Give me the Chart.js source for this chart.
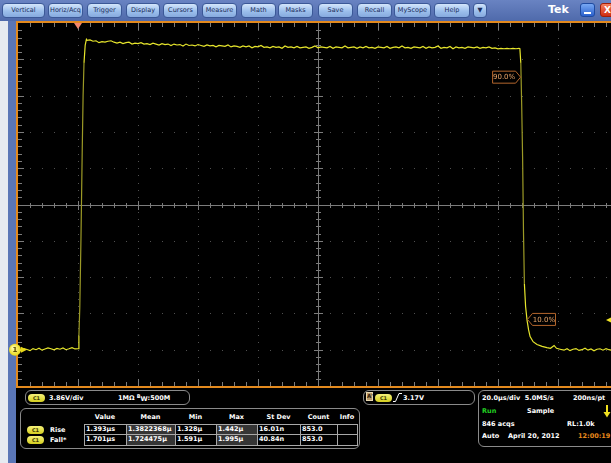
<!DOCTYPE html>
<html>
<head>
<meta charset="utf-8">
<script src="https://cdn.jsdelivr.net/npm/chart.js@4.4.0/dist/chart.umd.min.js"></script>
<style>
html, body { margin: 0; padding: 0; width: 611px; height: 463px; overflow: hidden; background: #000; font-family: "DejaVu Sans", sans-serif; }
#menu { position: absolute; left: 0; top: 0; width: 611px; height: 21px; background: linear-gradient(#6983c2, #4f6aab); z-index: 2; }
.btn { position: absolute; top: 3px; height: 13px; border: 1px solid #3b5897; border-radius: 4px; background: linear-gradient(#d3e5fb, #9cbfec 55%, #86aade); color: #1b2c5a; font-size: 6.5px; line-height: 13px; text-align: center; white-space: nowrap; }
#stripL { position: absolute; left: 0; top: 21px; width: 8px; height: 442px; background: #e6eaf0; }
#stripB { position: absolute; left: 8px; top: 21px; width: 8px; height: 442px; background: #5a76b6; }
#wrap { position: absolute; left: 0; top: 0; width: 630px; height: 390px; z-index: 1; }
.box { position: absolute; border: 1px solid #8a8a8a; border-radius: 6px; box-sizing: border-box; }
.t { position: absolute; color: #fff; font-weight: bold; font-size: 6.5px; line-height: 8px; white-space: nowrap; }
.pill { position: absolute; width: 17px; height: 8px; border-radius: 4px; background: linear-gradient(#f6f27a, #d4ce1e); color: #3a3800; font-weight: bold; font-size: 5px; line-height: 8px; text-align: center; }
.cell { position: absolute; box-sizing: border-box; border: 1px solid #a8a8a8; color: #fff; font-weight: bold; font-size: 6.5px; line-height: 9px; padding-left: 1px; white-space: nowrap; overflow: hidden; }
</style>
</head>
<body>
<div id="menu"></div>
<div id="stripL"></div>
<div id="stripB"></div>
<div id="wrap"><canvas id="scope"></canvas></div>
<div id="panel"></div>

<script>
// C1 acquisition, time in µs, volts
const timeUs = [
  -20, -19, -18, -17, -16, -15, -14, -13, -12, -11, -10, -9, -8, -7, -6, -5, -4, -3, -2, -1,
  0, 0.3, 0.6, 1.0, 1.4, 1.7, 2.0, 2.4, 2.8,
  3, 4, 5, 6, 7, 8, 9, 10, 11, 12,
  13, 14, 15, 16, 17, 18, 19, 20, 21, 22,
  23, 24, 25, 26, 27, 28, 29, 30, 31, 32,
  33, 34, 35, 36, 37, 38, 39, 40, 41, 42,
  43, 44, 45, 46, 47, 48, 49, 50, 51, 52,
  53, 54, 55, 56, 57, 58, 59, 60, 61, 62,
  63, 64, 65, 66, 67, 68, 69, 70, 71, 72,
  73, 74, 75, 76, 77, 78, 79, 80, 81, 82,
  83, 84, 85, 86, 87, 88, 89, 90, 91, 92,
  93, 94, 95, 96, 97, 98, 99, 100, 101, 102,
  103, 104, 105, 106, 107, 108, 109, 110, 111, 112,
  113, 114, 115, 116, 117, 118, 119, 120, 121, 122,
  123, 124, 125, 126, 127, 128, 129, 130, 131, 132,
  133, 134, 135, 136, 137, 138, 139, 140, 141, 142,
  143, 144, 145, 146, 147,
  147.3, 147.6, 147.9, 148.2, 148.5, 148.8, 149.2, 149.7, 150.2, 150.7, 151.7, 153, 154.7, 156.3, 157.5, 158.7, 159.5, 160.7,
  162, 163, 164, 165, 166, 167, 168, 169, 170, 171, 172, 173, 174, 175, 176, 177, 178, 179, 180
];
const voltsC1 = [
  0.05, -0.08, 0.1, 0.02, -0.1, 0.12, 0.0, 0.15, -0.05, 0.08, 0.2, 0.1, -0.02, 0.14, 0.05, 0.18, 0.0, 0.1, 0.22, 0.08,
  0.1, 1.5, 4.5, 12, 21, 27, 30.5, 32.4, 33.0,
  32.9, 32.95, 32.8, 32.85, 32.65, 32.75, 32.7, 32.8, 32.85, 32.7,
  32.6, 32.7, 32.55, 32.65, 32.7, 32.5, 32.6, 32.55, 32.65, 32.5,
  32.55, 32.45, 32.6, 32.5, 32.4, 32.55, 32.45, 32.5, 32.35, 32.5,
  32.4, 32.45, 32.3, 32.5, 32.35, 32.4, 32.3, 32.45, 32.35, 32.25,
  32.4, 32.3, 32.35, 32.2, 32.35, 32.3, 32.25, 32.4, 32.2, 32.3,
  32.25, 32.15, 32.3, 32.2, 32.3, 32.1, 32.25, 32.2, 32.35, 32.15,
  32.2, 32.1, 32.25, 32.15, 32.2, 32.05, 32.3, 32.15, 32.2, 32.1,
  32.25, 32.1, 32.15, 32.2, 32.05, 32.15, 32.3, 32.1, 32.2, 32.15,
  32.1, 32.25, 32.05, 32.2, 32.15, 32.1, 32.3, 32.1, 32.15, 32.2,
  32.05, 32.2, 32.1, 32.25, 32.1, 32.15, 32.05, 32.2, 32.15, 32.1,
  32.25, 32.05, 32.15, 32.2, 32.1, 32.3, 32.1, 32.15, 32.05, 32.2,
  32.15, 32.1, 32.25, 32.05, 32.2, 32.1, 32.15, 32.3, 32.05, 32.15,
  32.1, 32.25, 32.0, 32.2, 32.1, 32.15, 32.05, 32.2, 32.15, 32.1,
  32.2, 32.05, 32.15, 32.1, 32.2, 32.05, 32.1, 32.0, 32.05, 32.0,
  32.05, 32.0, 32.05, 32.0, 32.05,
  32.0, 30.5, 26, 20.5, 12.5, 7.0, 4.6, 3.1, 2.1, 1.4, 0.85, 0.55, 0.35, 0.22, 0.15, 0.45, 0.15, 0.05,
  -0.05, 0.1, -0.1, 0.05, 0.12, -0.08, 0.0, 0.15, -0.05, 0.08, -0.12, 0.05, 0.1, -0.05, 0.12, 0.0, -0.08, 0.1, 0.02
];

// scope settings
const secPerDiv = 20;        // µs/div
const voltsPerDiv = 3.86;
const xDivs = 10, yDivs = 10;
const xMin = -20;            // trigger sits one division in
const yMin = -3.86;          // ground one division up
const trigLevel = 3.17;
const highLevel = 32.2, lowLevel = 0;
const refPercents = [90, 10];

// menu + readouts
const menuButtons = [
  ['Vertical', 2, 43], ['Horiz/Acq', 48, 35], ['Trigger', 87, 35], ['Display', 126, 34],
  ['Cursors', 163, 35], ['Measure', 202, 35], ['Math', 241, 35], ['Masks', 278, 35],
  ['Save', 318, 35], ['Recall', 357, 35], ['MyScope', 394, 37], ['Help', 434, 36], ['▼', 473, 14]
];
const measHeaders = ['Value', 'Mean', 'Min', 'Max', 'St Dev', 'Count', 'Info'];
const measNames = ['Rise', 'Fall*'];
const riseStats = ['1.393µs', '1.3822368µ', '1.328µ', '1.442µ', '16.01n', '853.0', ''];
const fallStats = ['1.701µs', '1.724475µ', '1.591µ', '1.995µ', '40.84n', '853.0', ''];

const traceYellow = '#e6e52c';
const edgeOlive = '#9c9a26';

// build the menu bar
const menu = document.getElementById('menu');
menuButtons.forEach(([label, left, width]) => {
    const b = document.createElement('div');
    b.className = 'btn';
    b.style.left = left + 'px';
    b.style.width = (width - 2) + 'px';
    b.textContent = label;
    menu.appendChild(b);
});
menu.insertAdjacentHTML('beforeend',
    '<div style="position:absolute;left:548px;top:2px;color:#fff;font-weight:bold;font-size:11px;line-height:15px">Tek</div>' +
    '<div style="position:absolute;left:580px;top:3px;width:15px;height:14px;border-radius:3px;background:linear-gradient(#78a8f4,#2a60cc);box-sizing:border-box;border:1px solid #1e4aa0"><div style="position:absolute;left:3px;top:8px;width:7px;height:2px;background:#fff"></div></div>' +
    '<div style="position:absolute;left:600px;top:3px;width:16px;height:14px;border-radius:3px;background:linear-gradient(#f48060,#d02c12);box-sizing:border-box;border:1px solid #a01e08;color:#fff;font-weight:bold;font-size:9px;line-height:12px;padding-left:3px">X</div>');

// bottom readouts
const panel = document.getElementById('panel');
function add(html) { panel.insertAdjacentHTML('beforeend', html); }
function txt(s, left, cy, extra) { add('<div class="t" style="left:' + left + 'px;top:' + (cy - 4) + 'px;' + (extra || '') + '">' + s + '</div>'); }
function pill(left, cy) { add('<div class="pill" style="left:' + left + 'px;top:' + (cy - 4) + 'px">C1</div>'); }

add('<div class="box" style="left:25px;top:390px;width:165px;height:15px"></div>');
pill(28, 397.5);
txt('3.86V/div', 49, 397.5);
txt('1MΩ <span style="position:relative;top:-2px;font-size:5px">B</span><span style="position:relative;top:1px">W</span>:500M', 118, 397.5);

add('<div class="box" style="left:20px;top:408px;width:340px;height:41px"></div>');
const colEdges = [84, 126, 175, 216, 257, 300, 337, 357];
measHeaders.forEach((h, i) => {
    txt(h, colEdges[i], 417, 'width:' + (colEdges[i + 1] - colEdges[i]) + 'px;text-align:center');
});
const rowTops = [424, 434], rowH = [11, 11];
[riseStats, fallStats].forEach((row, r) => {
    pill(27, rowTops[r] + 5.5);
    txt(measNames[r], 50, rowTops[r] + 5.5);
    row.forEach((v, i) => {
        const bg = (i === 1 || i === 3) ? '#353535' : '#000';
        add('<div class="cell" style="left:' + colEdges[i] + 'px;top:' + rowTops[r] + 'px;width:' +
            (colEdges[i + 1] - colEdges[i] + 1) + 'px;height:' + (rowH[r] + 1) + 'px;background:' + bg + '">' + v + '</div>');
    });
});

add('<div class="box" style="left:363px;top:390px;width:112px;height:15px"></div>');
add('<div style="position:absolute;left:366px;top:392px;width:7px;height:9px;box-sizing:border-box;border:1px solid #e8d8b0;background:#b89868;color:#2a1a08;font-weight:bold;font-size:5.5px;line-height:7px;text-align:center">A\'</div>');
pill(375, 397.5);
add('<svg style="position:absolute;left:393px;top:392px" width="9" height="11"><path d="M0 9.5 H2.5 L6 1.5 H9" fill="none" stroke="#fff" stroke-width="1"/></svg>');
txt(trigLevel.toFixed(2) + 'V', 403, 397.5);

add('<div class="box" style="left:478px;top:390px;width:150px;height:57px"></div>');
txt('20.0µs/div&nbsp; 5.0MS/s', 482, 398);
txt('200ns/pt', 573, 398);
txt('Run', 482, 411, 'color:#22d022');
txt('Sample', 527, 411);
add('<svg style="position:absolute;left:603px;top:405px" width="8" height="13"><path d="M4 0 V8" stroke="#f0e020" stroke-width="2"/><path d="M0.5 7 H7.5 L4 12.5 Z" fill="#f0e020"/></svg>');
txt('846 acqs', 482, 423.5);
txt('RL:1.0k', 567, 423.5);
txt('Auto', 482, 436);
txt('April 20, 2012', 508, 436);
txt('12:00:19', 578, 436, 'color:#e88a1c');

// level crossings on the falling edge, for the 90% / 10% tags
function fallCrossing(level) {
    for (let i = 1; i < timeUs.length; i++) {
        if (timeUs[i] > 100 && voltsC1[i - 1] >= level && voltsC1[i] < level) {
            const f = (voltsC1[i - 1] - level) / (voltsC1[i - 1] - voltsC1[i]);
            return timeUs[i - 1] + f * (timeUs[i] - timeUs[i - 1]);
        }
    }
    return null;
}

function refTag(ctx, text, tipX, py, boxLeftOfTip) {
    const w = 23, h = 12, arr = 5;
    const s = boxLeftOfTip ? -1 : 1;
    ctx.beginPath();
    ctx.moveTo(tipX, py);
    ctx.lineTo(tipX + s * arr, py - h / 2);
    ctx.lineTo(tipX + s * (arr + w), py - h / 2);
    ctx.lineTo(tipX + s * (arr + w), py + h / 2);
    ctx.lineTo(tipX + s * arr, py + h / 2);
    ctx.closePath();
    ctx.fillStyle = '#000';
    ctx.fill();
    ctx.strokeStyle = '#b4662c';
    ctx.lineWidth = 1;
    ctx.stroke();
    ctx.fillStyle = '#eaa66a';
    ctx.font = '7px "DejaVu Sans"';
    ctx.textAlign = 'center';
    ctx.textBaseline = 'middle';
    ctx.fillText(text, tipX + s * (arr + w / 2), py + 0.5);
}

const graticule = {
    id: 'graticule',
    beforeDatasetsDraw(chart) {
        const { ctx, chartArea: a, scales: { x, y } } = chart;
        ctx.save();
        ctx.fillStyle = '#000';
        ctx.fillRect(a.left, a.top, a.width, a.height);

        const px = v => Math.round(x.getPixelForValue(v));
        const py = v => Math.round(y.getPixelForValue(v));
        const xMinor = secPerDiv / 5, yMinor = voltsPerDiv / 5;

        // dotted division lines
        ctx.fillStyle = '#505050';
        for (let i = 1; i < xDivs; i++) {
            if (i === xDivs / 2) continue;
            const gx = px(xMin + i * secPerDiv);
            for (let k = 1; k < yDivs * 5; k++) ctx.fillRect(gx, py(yMin + k * yMinor), 1, 1);
        }
        for (let j = 1; j < yDivs; j++) {
            if (j === yDivs / 2) continue;
            const gy = py(yMin + j * voltsPerDiv);
            for (let k = 1; k < xDivs * 5; k++) ctx.fillRect(px(xMin + k * xMinor), gy, 1, 1);
        }

        // centre cross with ticks
        const cx = px(xMin + xDivs / 2 * secPerDiv), cy = py(yMin + yDivs / 2 * voltsPerDiv);
        ctx.fillStyle = '#7c7c7c';
        ctx.fillRect(a.left, cy, a.width, 1);
        ctx.fillRect(cx, a.top, 1, a.height);
        for (let k = 1; k < xDivs * 5; k++) {
            const t = k % 5 === 0 ? 4 : 2;
            ctx.fillRect(px(xMin + k * xMinor), cy - t, 1, 2 * t + 1);
        }
        for (let k = 1; k < yDivs * 5; k++) {
            const t = k % 5 === 0 ? 4 : 2;
            ctx.fillRect(cx - t, py(yMin + k * yMinor), 2 * t + 1, 1);
        }

        // edge ticks
        for (let k = 1; k < xDivs * 5; k++) {
            const gx = px(xMin + k * xMinor);
            const t = k % 5 === 0 ? 7 : 4;
            ctx.fillRect(gx, a.top, 1, t);
            ctx.fillRect(gx, a.bottom - t, 1, t);
        }
        for (let k = 1; k < yDivs * 5; k++) {
            const gy = py(yMin + k * yMinor);
            const t = k % 5 === 0 ? 6 : 4;
            ctx.fillRect(a.left, gy, t, 1);
        }
        ctx.restore();
    },
    afterDatasetsDraw(chart) {
        const { ctx, chartArea: a, scales: { x, y } } = chart;
        ctx.save();

        // 90% / 10% reference tags
        refPercents.forEach(p => {
            const lvl = lowLevel + p / 100 * (highLevel - lowLevel);
            const tc = fallCrossing(lvl);
            const tipX = x.getPixelForValue(tc);
            const ly = y.getPixelForValue(lvl);
            refTag(ctx, p.toFixed(1) + '%', p > 50 ? tipX - 0.5 : tipX + 0.5, ly, p > 50);
        });

        // trigger position marker
        const tx = x.getPixelForValue(0);
        ctx.fillStyle = '#f2866c';
        ctx.beginPath();
        ctx.moveTo(tx - 4, a.top);
        ctx.lineTo(tx + 4, a.top);
        ctx.lineTo(tx, a.top + 6);
        ctx.closePath();
        ctx.fill();

        // trigger level marker
        const ty = y.getPixelForValue(trigLevel);
        ctx.fillStyle = '#f0e426';
        ctx.beginPath();
        ctx.moveTo(606, ty);
        ctx.lineTo(614, ty - 4);
        ctx.lineTo(614, ty + 4);
        ctx.closePath();
        ctx.fill();

        // orange frame
        ctx.strokeStyle = '#e38a1e';
        ctx.lineWidth = 2;
        ctx.strokeRect(a.left - 1, a.top - 1, a.width + 2, a.height + 2);

        // channel 1 ground marker
        const gy = y.getPixelForValue(0);
        const gcx = a.left - 3;
        const grad = ctx.createRadialGradient(gcx - 2, gy - 2, 1, gcx, gy, 6);
        grad.addColorStop(0, '#fffaa0');
        grad.addColorStop(1, '#e8d818');
        ctx.fillStyle = grad;
        ctx.beginPath();
        ctx.arc(gcx, gy, 6, 0, Math.PI * 2);
        ctx.fill();
        ctx.fillStyle = '#e8d818';
        ctx.beginPath();
        ctx.moveTo(a.left + 3, gy - 3);
        ctx.lineTo(a.left + 9, gy);
        ctx.lineTo(a.left + 3, gy + 3);
        ctx.closePath();
        ctx.fill();
        ctx.fillStyle = '#5a4a00';
        ctx.font = 'bold 7px "DejaVu Sans"';
        ctx.textAlign = 'center';
        ctx.textBaseline = 'middle';
        ctx.fillText('1', gcx, gy + 0.5);
        ctx.restore();
    }
};

const ctxScope = document.getElementById('scope').getContext('2d');
const scopeChart = new Chart(ctxScope, {
    type: 'line',
    data: {
        datasets: [{
            data: timeUs.map((t, i) => ({ x: t, y: voltsC1[i] })),
            borderColor: traceYellow,
            borderWidth: 1.2,
            pointRadius: 0,
            tension: 0,
            // fast edges show dimmer, like the intensity grading on the scope
            segment: {
                borderColor: c => {
                    const slope = Math.abs(c.p1.parsed.y - c.p0.parsed.y) / (c.p1.parsed.x - c.p0.parsed.x);
                    return slope > 8 ? edgeOlive : traceYellow;
                }
            }
        }]
    },
    options: {
        responsive: true,
        maintainAspectRatio: false,
        animation: false,
        events: [],
        layout: { padding: { left: 18, top: 23, right: 12, bottom: 4 } },
        plugins: { legend: { display: false }, tooltip: { enabled: false } },
        scales: {
            x: { type: 'linear', min: xMin, max: xMin + xDivs * secPerDiv, display: false },
            y: { type: 'linear', min: yMin, max: yMin + yDivs * voltsPerDiv, display: false }
        }
    },
    plugins: [graticule]
});
</script>
</body>
</html>
